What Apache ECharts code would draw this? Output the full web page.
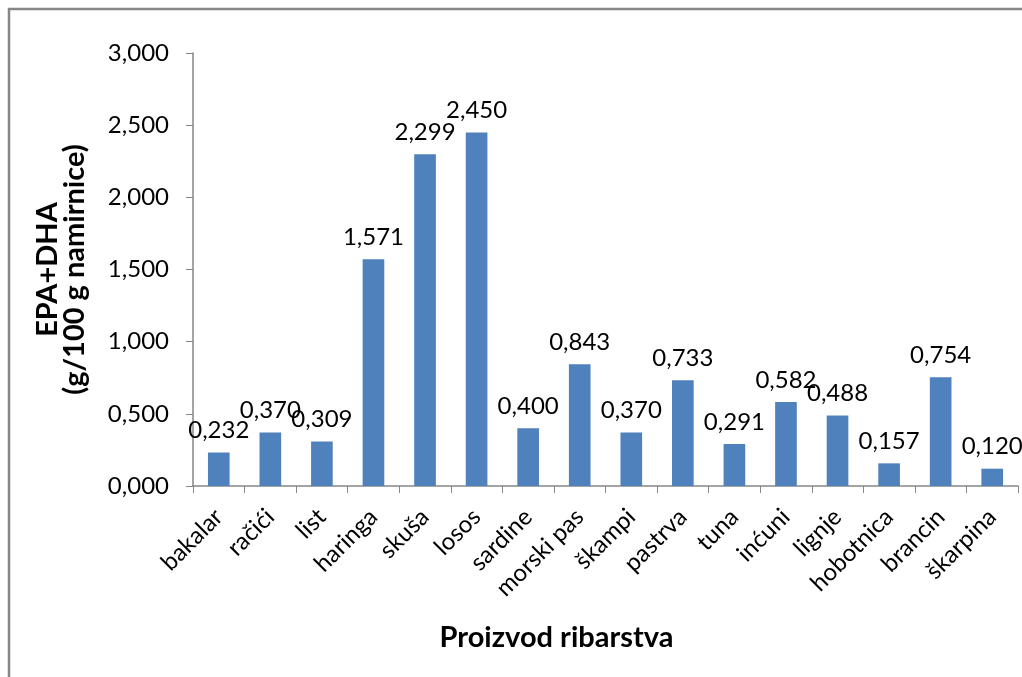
<!DOCTYPE html>
<html>
<head>
<meta charset="utf-8">
<script src="https://cdn.jsdelivr.net/npm/echarts@6/dist/echarts.min.js"></script>
<style>html,body{margin:0;padding:0;background:#fff;}#c{width:1022px;height:677px;}</style>
</head>
<body>
<div id="c"></div>
<script>
const categories = ['bakalar','račići','list','haringa','skuša','losos','sardine','morski pas','škampi','pastrva','tuna','inćuni','lignje','hobotnica','brancin','škarpina'];
const values = [0.232,0.370,0.309,1.571,2.299,2.450,0.400,0.843,0.370,0.733,0.291,0.582,0.488,0.157,0.754,0.120];
const yTitle = 'EPA+DHA\n(g/100 g namirnice)';
const xTitle = 'Proizvod ribarstva';

const fmt = v => v.toFixed(3).replace('.', ',');
const font = 'Lato, "Open Sans", sans-serif';
const chart = echarts.init(document.getElementById('c'));
chart.setOption({
  animation: false,
  textStyle: {fontFamily: font},
  graphic: [{
    type: 'polyline',
    shape: {points: [[9, 700], [9, 9], [1030, 9]]},
    style: {stroke: '#878787', lineWidth: 2.5, fill: null}
  }],
  grid: {left: 193, right: 4, top: 53, bottom: 191},
  xAxis: {
    type: 'category',
    data: categories,
    name: xTitle,
    nameLocation: 'middle',
    nameGap: 137,
    nameTextStyle: {fontFamily: font, fontSize: 29, fontWeight: 'bold', color: '#000', padding: [0, 98, 0, 0]},
    axisLine: {lineStyle: {color: '#868686', width: 1.5}},
    axisTick: {show: true, length: 7, lineStyle: {color: '#868686'}},
    axisLabel: {rotate: 45, fontSize: 24, color: '#000', margin: 27, fontFamily: font}
  },
  yAxis: {
    type: 'value',
    min: 0, max: 3, interval: 0.5,
    name: yTitle,
    nameLocation: 'middle',
    nameGap: 105,
    nameTextStyle: {fontFamily: font, fontSize: 29, fontWeight: 'bold', color: '#000', lineHeight: 27},
    axisLine: {show: true, lineStyle: {color: '#868686', width: 1.5}},
    axisTick: {show: true, length: 7, lineStyle: {color: '#868686'}},
    splitLine: {show: false},
    axisLabel: {fontSize: 24, color: '#000', margin: 24, formatter: v => fmt(v), fontFamily: font}
  },
  series: [{
    type: 'bar',
    data: values,
    barWidth: '42%',
    itemStyle: {color: '#4F81BD'},
    label: {show: true, position: 'top', distance: 10, fontSize: 24, color: '#000', formatter: p => fmt(p.value), fontFamily: font}
  }]
});
</script>
</body>
</html>
